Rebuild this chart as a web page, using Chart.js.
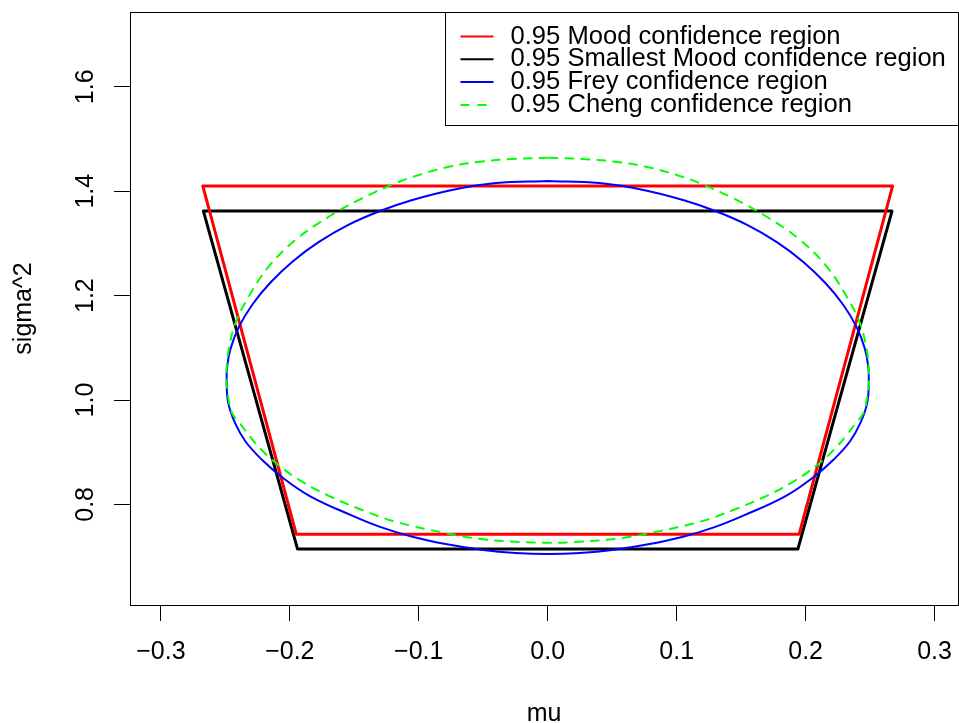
<!DOCTYPE html>
<html>
<head>
<meta charset="utf-8">
<script src="https://cdn.jsdelivr.net/npm/chart.js@4.4.0/dist/chart.umd.min.js"></script>
<style>
  html, body { margin: 0; padding: 0; background: #fff; }
</style>
</head>
<body>
<canvas id="regionChart" width="959" height="723"></canvas>
<script>
// tick labels
const xTicks = [-0.3, -0.2, -0.1, 0.0, 0.1, 0.2, 0.3];
const yTicks = [0.8, 1.0, 1.2, 1.4, 1.6];

const seriesNames = [
    '0.95 Mood confidence region',
    '0.95 Smallest Mood confidence region',
    '0.95 Frey confidence region',
    '0.95 Cheng confidence region'
];

// Mood region (trapezoid corners)
const moodMu = [-0.2675, 0.2675, 0.195, -0.195, -0.2675];
const moodSigma2 = [1.41, 1.41, 0.743, 0.743, 1.41];

// smallest Mood region
const smallMu = [-0.267, 0.267, 0.194, -0.194, -0.267];
const smallSigma2 = [1.362, 1.362, 0.7145, 0.7145, 1.362];

// Frey region (top, round the left, bottom, round the right)
const freyMu = [0, -0.04, -0.077, -0.105, -0.13, -0.155, -0.178, -0.198, -0.215, -0.229, -0.2395, -0.246, -0.2485, -0.249,
    -0.2478, -0.2425, -0.2345, -0.2218, -0.206, -0.1845, -0.1517, -0.13, -0.105, -0.078, -0.05, -0.025,
    0,
    0.025, 0.05, 0.078, 0.105, 0.13, 0.1517, 0.1845, 0.206, 0.2218, 0.2345, 0.2425, 0.2478,
    0.249, 0.2485, 0.246, 0.2395, 0.229, 0.215, 0.198, 0.178, 0.155, 0.13, 0.105, 0.077, 0.04, 0];
const freySigma2 = [1.4195, 1.4155, 1.401, 1.383, 1.362, 1.335, 1.302, 1.265, 1.225, 1.183, 1.14, 1.098, 1.065, 1.04,
    0.995, 0.956, 0.921, 0.886, 0.852, 0.816, 0.7785, 0.757, 0.738, 0.7235, 0.7125, 0.7069,
    0.705,
    0.7069, 0.7125, 0.7235, 0.738, 0.757, 0.7785, 0.816, 0.852, 0.886, 0.921, 0.956, 0.995,
    1.04, 1.065, 1.098, 1.14, 1.183, 1.225, 1.265, 1.302, 1.335, 1.362, 1.383, 1.401, 1.4155, 1.4195];

// Cheng region
const chengMu = [0, -0.027, -0.0525, -0.0783, -0.1042, -0.1181, -0.1439, -0.1698, -0.1957, -0.2164, -0.2319, -0.2422, -0.2474, -0.249, -0.2492,
    -0.2474, -0.2447, -0.2386, -0.2309, -0.2218, -0.2102, -0.1921, -0.1698, -0.1439, -0.1181, -0.0783, -0.0525, -0.0215,
    0,
    0.0215, 0.0525, 0.0783, 0.1181, 0.1439, 0.1698, 0.1921, 0.2102, 0.2218, 0.2309, 0.2386, 0.2447, 0.2474,
    0.2492, 0.249, 0.2474, 0.2422, 0.2319, 0.2164, 0.1957, 0.1698, 0.1439, 0.1181, 0.1042, 0.0783, 0.0525, 0.027, 0];
const chengSigma2 = [1.4642, 1.4617, 1.4565, 1.4458, 1.4278, 1.4151, 1.3864, 1.3511, 1.3065, 1.2554, 1.1979, 1.1469, 1.0958, 1.06, 1.035,
    1.0, 0.9745, 0.955, 0.93, 0.9042, 0.878, 0.846, 0.8165, 0.7893, 0.7669, 0.7446, 0.734, 0.728,
    0.7266,
    0.728, 0.734, 0.7446, 0.7669, 0.7893, 0.8165, 0.846, 0.878, 0.9042, 0.93, 0.955, 0.9745, 1.0,
    1.035, 1.06, 1.0958, 1.1469, 1.1979, 1.2554, 1.3065, 1.3511, 1.3864, 1.4151, 1.4278, 1.4458, 1.4565, 1.4617, 1.4642];

const toPoints = (xs, ys) => xs.map((x, i) => ({x: x, y: ys[i]}));
const fmt = (v) => Number(v).toFixed(1).replace('-', '\u2212');

const FONT = '"Liberation Sans", Arial, Helvetica, sans-serif';
Chart.defaults.font.family = FONT;
Chart.defaults.font.size = 25;
Chart.defaults.color = '#000';

// R style box round the plot region
const frame = {
    id: 'frame',
    afterDraw(chart) {
        const {ctx, chartArea: a} = chart;
        ctx.save();
        ctx.strokeStyle = '#000';
        ctx.lineWidth = 1;
        ctx.strokeRect(Math.round(a.left) + 0.5, Math.round(a.top) + 0.5,
            Math.round(a.right - a.left), Math.round(a.bottom - a.top));
        ctx.restore();
    }
};

// legend in the top right corner, boxed
const boxLegend = {
    id: 'boxLegend',
    afterDatasetsDraw(chart) {
        const {ctx, chartArea: a} = chart;
        const right = Math.round(a.right) + 0.5;
        const top = Math.round(a.top) + 0.5;
        const left = right - 513;
        const h = 113;
        ctx.save();
        ctx.fillStyle = '#fff';
        ctx.fillRect(left, top, right - left, h);
        ctx.strokeStyle = '#000';
        ctx.lineWidth = 1;
        ctx.strokeRect(left, top, right - left, h);
        ctx.font = '25.6px ' + FONT;
        ctx.textBaseline = 'middle';
        ctx.textAlign = 'left';
        chart.data.datasets.forEach((ds, i) => {
            const y = top + 24 + i * 22.8;
            ctx.beginPath();
            ctx.strokeStyle = ds.borderColor;
            ctx.lineWidth = 2;
            ctx.setLineDash(ds.borderDash && ds.borderDash.length ? [9, 8] : []);
            ctx.moveTo(left + 15, y);
            ctx.lineTo(left + 48, y);
            ctx.stroke();
            ctx.setLineDash([]);
            ctx.fillStyle = '#000';
            ctx.fillText(ds.label, left + 65, y);
        });
        ctx.restore();
    }
};

const line = (label, pts, color, width, order, tension, dash) => ({
    label: label,
    data: pts,
    showLine: true,
    fill: false,
    borderColor: color,
    borderWidth: width,
    borderDash: dash || [],
    borderCapStyle: 'round',
    borderJoinStyle: 'round',
    pointRadius: 0,
    tension: tension,
    order: order
});

const axisGrid = {display: true, drawOnChartArea: false, drawTicks: true, tickLength: 16, color: '#000', lineWidth: 1};

new Chart(document.getElementById('regionChart'), {
    type: 'scatter',
    data: {
        datasets: [
            line(seriesNames[0], toPoints(moodMu, moodSigma2), '#ff0000', 3, 3, 0),
            line(seriesNames[1], toPoints(smallMu, smallSigma2), '#000000', 3, 4, 0),
            line(seriesNames[2], toPoints(freyMu, freySigma2), '#0000ff', 2, 2, 0.4),
            line(seriesNames[3], toPoints(chengMu, chengSigma2), '#00ff00', 2, 1, 0.4, [8, 8])
        ]
    },
    options: {
        responsive: false,
        animation: false,
        layout: {padding: {left: 0, top: 12, right: 1, bottom: 0}},
        plugins: {legend: {display: false}, tooltip: {enabled: false}},
        scales: {
            x: {
                type: 'linear',
                min: -0.32393,
                max: 0.31818,
                afterBuildTicks: (s) => { s.ticks = xTicks.map(v => ({value: v})); },
                afterFit: (s) => { s.height = 118; s.paddingLeft = 0; s.paddingRight = 0; },
                grid: axisGrid,
                border: {display: true, color: '#000', width: 1},
                ticks: {autoSkip: false, padding: 16, minRotation: 0, maxRotation: 0, callback: (v) => fmt(v)},
                title: {display: true, text: 'mu', padding: {top: 0, bottom: -6}}
            },
            y: {
                type: 'linear',
                min: 0.60728,
                max: 1.7433,
                afterBuildTicks: (s) => { s.ticks = yTicks.map(v => ({value: v})); },
                afterFit: (s) => { s.width = 130; s.paddingTop = 0; s.paddingBottom = 0; },
                grid: axisGrid,
                border: {display: true, color: '#000', width: 1},
                ticks: {autoSkip: false, padding: 11, minRotation: 90, maxRotation: 90, crossAlign: 'center', callback: (v) => fmt(v)},
                title: {display: true, text: 'sigma^2', padding: {top: 9, bottom: 0}}
            }
        }
    },
    plugins: [frame, boxLegend]
});
</script>
</body>
</html>
